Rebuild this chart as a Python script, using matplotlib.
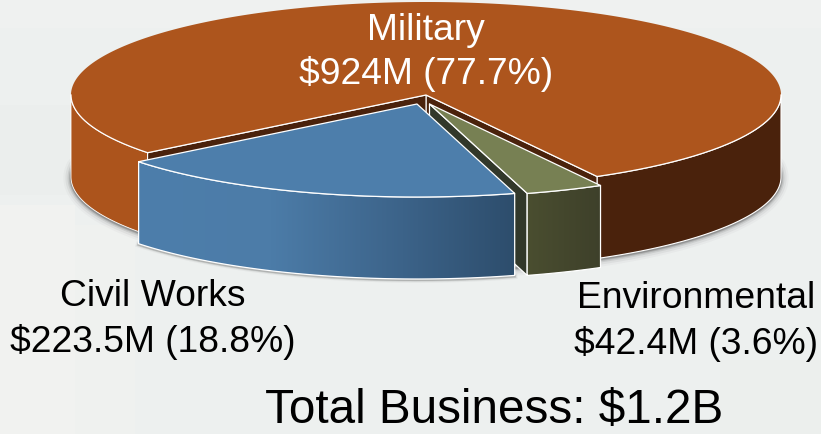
import numpy as np
import matplotlib
matplotlib.use('Agg')
import matplotlib.pyplot as plt
from matplotlib.colors import LinearSegmentedColormap
from matplotlib.patches import Polygon

names = ['Military', 'Civil Works', 'Environmental']
values = [924, 223.5, 42.4]
labels = ['$924M (77.7%)', '$223.5M (18.8%)', '$42.4M (3.6%)']
total_label = 'Total Business: $1.2B'

plt.rcParams['font.family'] = ['Liberation Sans', 'DejaVu Sans']
plt.rcParams['text.parse_math'] = False

cx, cy = 426, 95
rx, ry = 355, 93
depth = 82
start = 61.2   # where the environmental slice starts, clockwise on screen

fig = plt.figure(figsize=(8.21, 4.34), dpi=100)
ax = fig.add_axes([0, 0, 1, 1])
ax.set_xlim(0, 821)
ax.set_ylim(434, 0)
ax.axis('off')
fig.patch.set_facecolor('#edf0ef')

# angles of the slices from the values
sweep = np.array(values) / sum(values) * 360
env_a, env_b = start, start + sweep[2]
civ_a, civ_b = env_b, env_b + sweep[1]
mil_a, mil_b = civ_b, civ_b + sweep[0]


def rim(a, b, dx=0, dy=0):
    t = np.radians(np.linspace(a, b, 300))
    return np.column_stack([cx + dx + rx * np.cos(t), cy + dy + ry * np.sin(t)])


def down(pts):
    return pts + [0, depth]


def wall(pts):
    return np.vstack([pts, down(pts)[::-1]])


def shape(pts, color, z, edge='white', lw=0.9):
    ax.add_patch(Polygon(pts, closed=True, fc=color, ec=edge, lw=lw, zorder=z, joinstyle='round'))


def gradient(pts, stops, z, edge='white', lw=0.9):
    cm = LinearSegmentedColormap.from_list('g', stops)
    ax.add_patch(Polygon(pts, closed=True, fc='none', ec=edge, lw=lw, zorder=z + 0.1))
    clip = Polygon(pts, closed=True, transform=ax.transData, fc='none', ec='none')
    ax.add_patch(clip)
    x0, x1 = pts[:, 0].min(), pts[:, 0].max()
    y0, y1 = pts[:, 1].min(), pts[:, 1].max()
    im = ax.imshow(np.linspace(0, 1, 256).reshape(1, -1), cmap=cm, extent=[x0, x1, y1, y0],
                   aspect='auto', zorder=z)
    im.set_clip_path(clip)


# faint blocks in the background
for x, y, w, h, c in [(0, 0, 821, 434, '#edf0ef'), (0, 0, 821, 28, '#eff1f0'),
                      (0, 105, 70, 90, '#ebeeed'), (0, 205, 75, 229, '#f1f2f0'),
                      (75, 225, 60, 209, '#eff1ef'), (720, 360, 101, 74, '#ecefed')]:
    ax.add_patch(plt.Rectangle((x, y), w, h, fc=c, ec='none', zorder=0))
ax.set_xlim(0, 821)
ax.set_ylim(434, 0)

# soft shadow
civ_off = (-9, 9)
env_off = (3.5, 9)
outline = down(rim(-8, 188))
for w, a in [(11, 0.03), (8, 0.06), (5, 0.1), (3, 0.16), (1.5, 0.25)]:
    ax.plot(outline[:, 0], outline[:, 1] + 1, color='#303030', lw=w, alpha=a, zorder=1,
            solid_capstyle='round')
civ_low = down(rim(civ_a, civ_b, *civ_off))
for w, a in [(4, 0.05), (2.5, 0.1), (1.5, 0.2)]:
    ax.plot(civ_low[:, 0], civ_low[:, 1] + 1, color='#303030', lw=w, alpha=a, zorder=1)

apex = np.array([[cx, cy]], dtype=float)

# military
mil_right = rim(0, mil_b - 360)
mil_left = rim(mil_a, 180)
shape(wall(mil_right), '#4a220c', 2, lw=0.8)
shape(wall(mil_left), '#ac541c', 2, lw=0.6)
shape(wall(np.vstack([apex, rim(mil_b, mil_b)[:1]])), '#4a220c', 2.1, lw=0.8)
shape(wall(np.vstack([apex, rim(mil_a, mil_a)[:1]])), '#4a220c', 2.1, lw=0.8)
mil_top = np.vstack([apex, rim(mil_a, mil_b)])
ax.add_patch(Polygon(mil_top, closed=True, fc='#ad551d', ec='none', zorder=2.5))
ax.plot(*rim(mil_b - 360, 0).T, color='white', lw=0.9, zorder=2.6)
ax.plot(*rim(mil_a, 180).T, color='white', lw=0.9, zorder=2.6)
ax.plot(*np.vstack([rim(mil_a, mil_a)[:1], apex, rim(mil_b, mil_b)[:1]]).T, color='white', lw=0.9, zorder=2.6)

# environmental
env_apex = apex + env_off
env_rim = rim(env_a, env_b, *env_off)
shape(wall(np.vstack([env_apex, env_rim[-1:]])), '#32382a', 3)
gradient(wall(env_rim), ['#4a4e30', '#3e402a'], 3.2)
shape(np.vstack([env_apex, env_rim]), '#778053', 3.5)

# civil works
civ_apex = apex + civ_off
civ_rim = rim(civ_a, civ_b, *civ_off)
gradient(wall(civ_rim), [(0, '#4d7eab'), (0.35, '#4c7ca8'), (0.7, '#3c6389'), (1, '#2d4d6c')], 4)
shape(np.vstack([civ_apex, civ_rim]), '#4d7eab', 4.5)

# text
fs = 26.8
ax.text(426, 30, names[0], color='white', fontsize=fs, ha='center', va='center', zorder=6)
ax.text(426, 74, labels[0], color='white', fontsize=fs, ha='center', va='center', zorder=6)
ax.text(153, 297, names[1], color='black', fontsize=fs, ha='center', va='center', zorder=6)
ax.text(153, 342, labels[1], color='black', fontsize=fs, ha='center', va='center', zorder=6)
ax.text(696, 299, names[2], color='black', fontsize=fs, ha='center', va='center', zorder=6)
ax.text(696, 344, labels[2], color='black', fontsize=fs, ha='center', va='center', zorder=6)
ax.text(494, 410, total_label, color='black', fontsize=34.3, ha='center', va='center', zorder=6)

fig.savefig('out.png', dpi=100)
